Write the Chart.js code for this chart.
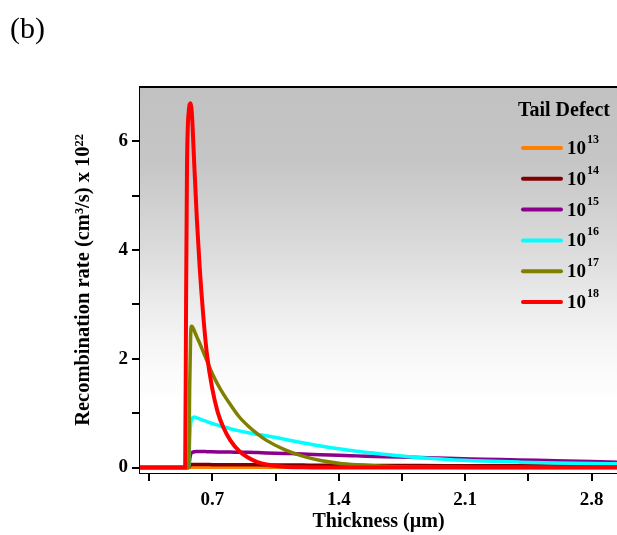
<!DOCTYPE html>
<html>
<head>
    <title>Recombination rate vs thickness</title>
    <script src="https://cdn.jsdelivr.net/npm/chart.js"></script>
    <style>
        body { margin: 0; background: #fff; }
        #wrap { width: 617px; height: 535px; }
    </style>
</head>
<body>
    <div id="wrap">
        <canvas id="recChart" width="617" height="535"></canvas>
    </div>
    <script>
        // thickness grid (um), shared by every curve
        const thickness = [0.30, 0.55, 0.555, 0.56, 0.565, 0.57, 0.575, 0.58, 0.585, 0.59, 0.60, 0.615, 0.63, 0.65, 0.67, 0.70, 0.73, 0.76, 0.80, 0.85, 0.90, 0.95, 1.00, 1.10, 1.20, 1.30, 1.40, 1.50, 1.65, 1.80, 2.00, 2.20, 2.40, 2.60, 2.80, 2.94];

        // recombination rate (x 10^22 cm^3/s) per tail defect density
        const rate13 = [0, 0, 0, 0, 0, 0, 0.003, 0.005, 0.005, 0.005, 0.005, 0.005, 0.005, 0.005, 0.005, 0.005, 0.005, 0.005, 0.005, 0.005, 0.005, 0.005, 0.005, 0.005, 0.005, 0.005, 0.005, 0.005, 0.005, 0.005, 0.004, 0.004, 0.004, 0.004, 0.004, 0.004];
        const rate14 = [0, 0, 0, 0, 0, 0, 0.03, 0.05, 0.055, 0.055, 0.055, 0.055, 0.055, 0.055, 0.055, 0.054, 0.054, 0.053, 0.053, 0.052, 0.051, 0.05, 0.049, 0.047, 0.045, 0.044, 0.042, 0.041, 0.039, 0.037, 0.035, 0.034, 0.032, 0.031, 0.03, 0.03];
        const rate15 = [0, 0, 0, 0, 0, 0, 0.15, 0.24, 0.27, 0.28, 0.29, 0.295, 0.295, 0.295, 0.293, 0.29, 0.288, 0.287, 0.285, 0.282, 0.28, 0.275, 0.27, 0.26, 0.25, 0.237, 0.225, 0.215, 0.2, 0.188, 0.17, 0.155, 0.14, 0.125, 0.11, 0.1];
        const rate16 = [0, 0, 0, 0, 0, 0, 0.5, 0.8, 0.88, 0.91, 0.93, 0.915, 0.895, 0.87, 0.845, 0.81, 0.78, 0.75, 0.715, 0.675, 0.64, 0.61, 0.585, 0.52, 0.455, 0.395, 0.345, 0.3, 0.245, 0.195, 0.15, 0.12, 0.1, 0.085, 0.075, 0.07];
        const rate17 = [0, 0, 0, 0, 0, 0, 1.5, 2.4, 2.6, 2.59, 2.52, 2.4, 2.29, 2.13, 1.97, 1.73, 1.53, 1.36, 1.16, 0.93, 0.76, 0.62, 0.5, 0.33, 0.21, 0.13, 0.08, 0.05, 0.023, 0.01, 0.004, 0.002, 0.002, 0.002, 0.002, 0.002];
        const rate18 = [0, 0, 3.0, 5.5, 6.3, 6.55, 6.68, 6.7, 6.6, 6.35, 5.6, 4.55, 3.7, 2.8, 2.1, 1.45, 1.02, 0.75, 0.5, 0.3, 0.18, 0.1, 0.055, 0.015, 0.004, 0, 0, 0, 0, 0, 0, 0, 0, 0, 0, 0];

        const exponents = [13, 14, 15, 16, 17, 18];
        const colors = ['#ff8000', '#800000', '#8b008b', '#00ffff', '#808000', '#ff0000'];
        const seriesRates = [rate13, rate14, rate15, rate16, rate17, rate18];

        // axis ticks
        const xTicks = [0.35, 0.7, 1.05, 1.4, 1.75, 2.1, 2.45, 2.8];
        const xLabels = ['0.7', '1.4', '2.1', '2.8'];
        const yTicks = [0, 1, 2, 3, 4, 5, 6];
        const yLabels = ['0', '2', '4', '6'];

        const serif = "'Liberation Serif', 'Times New Roman', serif";

        const datasets = seriesRates.map((rates, i) => ({
            label: '10^' + exponents[i],
            data: rates.map((r, j) => ({ x: thickness[j], y: r })),
            borderColor: colors[i],
            backgroundColor: colors[i],
            borderWidth: i === 5 ? 4 : 3.5,
            pointRadius: 0,
            fill: false,
            cubicInterpolationMode: 'monotone',
            order: 5 - i
        }));

        // gray-to-white plot background, top frame line, panel letter and legend
        const decorations = {
            id: 'decorations',
            beforeDatasetsDraw(chart) {
                const { ctx, chartArea: a } = chart;
                const g = ctx.createLinearGradient(0, a.top, 0, a.bottom);
                g.addColorStop(0, '#c1c1c1');
                g.addColorStop(0.2, '#c6c6c6');
                g.addColorStop(0.43, '#dcdcdc');
                g.addColorStop(0.56, '#ebebeb');
                g.addColorStop(0.65, '#f4f4f4');
                g.addColorStop(0.75, '#fbfbfb');
                g.addColorStop(0.82, '#ffffff');
                ctx.save();
                ctx.fillStyle = g;
                ctx.fillRect(a.left, a.top, a.right - a.left, a.bottom - a.top);
                ctx.restore();
            },
            afterDraw(chart) {
                const { ctx, chartArea: a } = chart;
                ctx.save();
                ctx.strokeStyle = '#000';
                ctx.lineWidth = 2;
                ctx.beginPath();
                ctx.moveTo(a.left, a.top);
                ctx.lineTo(a.right, a.top);
                ctx.stroke();

                ctx.fillStyle = '#000';
                ctx.font = '30px ' + serif;
                ctx.textBaseline = 'alphabetic';
                ctx.fillText('(b)', 10, 38);

                ctx.font = 'bold 20px ' + serif;
                ctx.textAlign = 'center';
                ctx.fillText('Tail Defect', 564, 116);

                ctx.textAlign = 'left';
                chart.data.datasets.forEach((ds, i) => {
                    const y = 148 + i * 30.8;
                    ctx.strokeStyle = ds.borderColor;
                    ctx.lineWidth = 4;
                    ctx.lineCap = 'round';
                    ctx.beginPath();
                    ctx.moveTo(523, y);
                    ctx.lineTo(561, y);
                    ctx.stroke();
                    ctx.font = 'bold 19px ' + serif;
                    ctx.fillText('10', 567, y + 6);
                    ctx.font = 'bold 12px ' + serif;
                    ctx.fillText(String(exponents[i]), 587, y - 5);
                });
                ctx.restore();
            }
        };

        const ctx = document.getElementById('recChart').getContext('2d');
        new Chart(ctx, {
            type: 'line',
            data: { datasets },
            options: {
                responsive: false,
                animation: false,
                layout: { padding: { top: 87, right: 0, left: 0, bottom: 0 } },
                plugins: {
                    legend: { display: false },
                    tooltip: { enabled: false }
                },
                scales: {
                    x: {
                        type: 'linear',
                        min: 0.3,
                        max: 2.94,
                        afterBuildTicks: (scale) => { scale.ticks = xTicks.map(v => ({ value: v })); },
                        afterFit: (scale) => { scale.height = 62; },
                        ticks: {
                            color: '#000',
                            font: { family: serif, size: 19, weight: 'bold' },
                            padding: 8,
                            maxRotation: 0,
                            autoSkip: false,
                            callback: (v) => {
                                const s = (Math.round(v * 100) / 100).toString();
                                return xLabels.includes(s) ? s : '';
                            }
                        },
                        grid: { drawOnChartArea: false, tickLength: 8, color: '#000', lineWidth: 2 },
                        border: { display: true, color: '#000', width: 2 },
                        title: {
                            display: true,
                            text: 'Thickness (\u00b5m)',
                            color: '#000',
                            font: { family: serif, size: 20, weight: 'bold' },
                            padding: { top: 0, bottom: 1 }
                        }
                    },
                    y: {
                        min: -0.1,
                        max: 7,
                        afterBuildTicks: (scale) => { scale.ticks = yTicks.map(v => ({ value: v })); },
                        afterFit: (scale) => { scale.width = 140; },
                        ticks: {
                            color: '#000',
                            font: { family: serif, size: 19, weight: 'bold' },
                            padding: 4,
                            autoSkip: false,
                            callback: (v) => yLabels.includes(String(v)) ? String(v) : ''
                        },
                        grid: { drawOnChartArea: false, tickLength: 8, color: '#000', lineWidth: 2 },
                        border: { display: true, color: '#000', width: 2 },
                        title: {
                            display: true,
                            text: 'Recombination rate (cm\u00b3/s) x 10\u00b2\u00b2',
                            color: '#000',
                            font: { family: serif, size: 20.5, weight: 'bold' },
                            padding: { top: 71, bottom: 0 }
                        }
                    }
                }
            },
            plugins: [decorations]
        });
    </script>
</body>
</html>
